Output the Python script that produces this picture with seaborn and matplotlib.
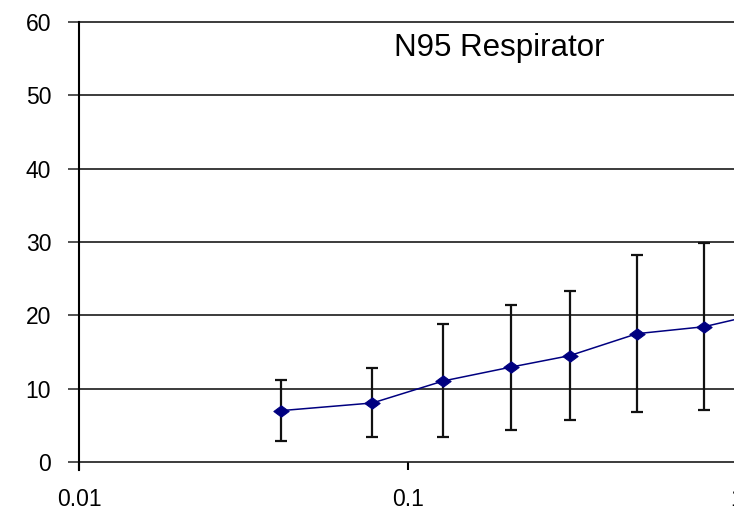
import matplotlib
matplotlib.use("Agg")
import matplotlib.pyplot as plt
from matplotlib.path import Path
import seaborn as sns
import pandas as pd
import numpy as np

# Particle size (µm) and measured values with error-bar limits
particle_size = [0.041, 0.078, 0.128, 0.206, 0.31, 0.497, 0.795, 1.25]
mean_value = [7.0, 8.05, 11.05, 12.95, 14.5, 17.5, 18.45, 20.5]
upper_value = [11.2, 12.8, 18.8, 21.4, 23.3, 28.2, 29.9, 31.0]
lower_value = [2.8, 3.4, 3.4, 4.4, 5.7, 6.8, 7.15, 7.5]

y_ticks = [0, 10, 20, 30, 40, 50, 60]
x_ticks = [0.01, 0.1, 1]
x_tick_labels = ["0.01", "0.1", "1"]
title_text = "N95 Respirator"

df = pd.DataFrame({"size": particle_size, "value": mean_value,
                   "upper": upper_value, "lower": lower_value})

sns.set_theme(style="white")
plt.rcParams["font.family"] = ["Liberation Sans", "DejaVu Sans"]
plt.rcParams["text.color"] = "black"
plt.rcParams["xtick.labelcolor"] = "black"
plt.rcParams["ytick.labelcolor"] = "black"

W, H = 734, 511
fig = plt.figure(figsize=(W / 100, H / 100), dpi=100)
left, right, top, bottom = 79, 737, 22, 462
ax = fig.add_axes([left / W, 1 - bottom / H, (right - left) / W, (bottom - top) / H])

ax.set_xscale("log")
ax.set_xlim(0.01, 1)
ax.set_ylim(0, 60)

# horizontal grid lines
for yv in y_ticks:
    ax.axhline(yv, color="#1a1a1a", lw=1.2, zorder=1, clip_on=False)

# error bars
err = np.vstack([df["value"] - df["lower"], df["upper"] - df["value"]])
ax.errorbar(df["size"], df["value"], yerr=err, fmt="none", ecolor="#111111",
            elinewidth=1.6, capsize=4.2, capthick=1.6, zorder=2)

# wide diamond marker
wide_diamond = Path([(-1.35, 0), (0, 1), (1.35, 0), (0, -1), (-1.35, 0)],
                    [Path.MOVETO, Path.LINETO, Path.LINETO, Path.LINETO, Path.CLOSEPOLY])

sns.lineplot(data=df, x="size", y="value", ax=ax, color="#000080", lw=1.1,
             marker=wide_diamond, markersize=11, markeredgecolor="#000080",
             markerfacecolor="#000080", zorder=3, sort=True)

for s in ["top", "right", "bottom"]:
    ax.spines[s].set_visible(False)
ax.spines["left"].set_visible(True)
ax.spines["left"].set_color("black")
ax.spines["left"].set_linewidth(1.5)
ax.spines["left"].set_bounds(-1.1, 60)

ax.set_yticks(y_ticks)
ax.set_yticklabels([str(v) for v in y_ticks], fontsize=16.5)
ax.set_xticks(x_ticks)
ax.set_xticklabels(x_tick_labels, fontsize=16.5)
ax.xaxis.set_minor_locator(matplotlib.ticker.NullLocator())
ax.tick_params(axis="y", which="major", direction="out", length=8, width=1.2,
               color="#333333", pad=12, left=True)
ax.tick_params(axis="x", which="major", direction="out", length=6, width=1.5,
               color="black", pad=13, bottom=True)
ax.set_xlabel("")
ax.set_ylabel("")

ax.text(0.0906, 56.4, title_text, fontsize=22.5, ha="left", va="center")

fig.savefig("out.png", dpi=100)
